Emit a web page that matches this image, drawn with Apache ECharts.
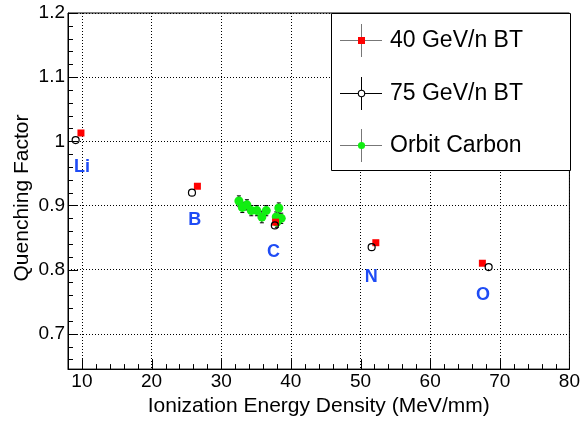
<!DOCTYPE html>
<html><head><meta charset="utf-8">
<script src="https://cdn.jsdelivr.net/npm/echarts@6/dist/echarts.min.js"></script>
<style>html,body{margin:0;padding:0;background:#fff}#c{width:583px;height:422px}</style>
</head><body><div id="c"></div>
<script>
// ---- tick values ----
const xMajorTicks = [10, 20, 30, 40, 50, 60, 70, 80];
const xMinorTicks = [8, 12, 14, 16, 18, 22, 24, 26, 28, 32, 34, 36, 38, 42, 44, 46, 48,
  52, 54, 56, 58, 62, 64, 66, 68, 72, 74, 76, 78];
const yMajorTicks = [0.7, 0.8, 0.9, 1, 1.1, 1.2];
const yMinorTicks = [0.66, 0.68, 0.72, 0.74, 0.76, 0.78, 0.82, 0.84, 0.86, 0.88, 0.92, 0.94,
  0.96, 0.98, 1.02, 1.04, 1.06, 1.08, 1.12, 1.14, 1.16, 1.18];

// ---- data ----
const bt40X = [9.86, 26.58, 37.8, 52.2, 67.5];
const bt40Y = [1.013, 0.930, 0.874, 0.842, 0.810];
const bt75X = [9.10, 25.8, 37.7, 51.6, 68.4];
const bt75Y = [1.002, 0.920, 0.869, 0.835, 0.804];
const orbitX = [32.54, 33.03, 33.69, 34.32, 35.12, 35.84, 36.47, 38.27, 37.90, 38.62, 37.99];
const orbitY = [0.907, 0.897, 0.901, 0.892, 0.892, 0.882, 0.892, 0.896, 0.882, 0.880, 0.874];
const orbitErr = [0.008, 0.008, 0.008, 0.008, 0.008, 0.009, 0.008, 0.008, 0.008, 0.008, 0.008];
const ionNames = ['Li', 'B', 'C', 'N', 'O'];
const ionLabelX = [10.0, 26.2, 37.5, 51.55, 67.6];
const ionLabelY = [0.960, 0.877, 0.827, 0.788, 0.761];

const legendNames = ['40 GeV/n BT', '75 GeV/n BT', 'Orbit Carbon'];
const xTitle = 'Ionization Energy Density (MeV/mm)';
const yTitle = 'Quenching Factor';

const X_MIN = 8, X_MAX = 80, Y_MIN = 0.645, Y_MAX = 1.2;
const FONT = "'Liberation Sans', Arial, Helvetica, sans-serif";
const BLUE = '#1f4cf5';
const RED = '#ff0000';
const GREEN = '#11ee11';
const TICK_COLOR = '#000';

const chart = echarts.init(document.getElementById('c'), null, {renderer: 'canvas'});

function zip(a, b, c) { return a.map((v, i) => c ? [v, b[i], c[i]] : [v, b[i]]); }

function tickSeries(name, values, isX, len) {
  return {
    name: name, type: 'custom', silent: true,
    data: values.map(v => isX ? [v, Y_MIN] : [X_MIN, v]),
    encode: {x: 0, y: 1},
    renderItem: function (params, api) {
      const p = api.coord([api.value(0), api.value(1)]);
      let shape;
      if (isX) {
        const px = Math.round(p[0]) + 0.5;
        shape = {x1: px, y1: p[1], x2: px, y2: p[1] - len};
      } else {
        const py = Math.round(p[1]) + 0.5;
        shape = {x1: p[0], y1: py, x2: p[0] + len, y2: py};
      }
      return {type: 'line', shape: shape, style: {stroke: TICK_COLOR, lineWidth: 1}};
    },
    z: 10
  };
}

const option = {
  animation: false,
  backgroundColor: '#fff',
  grid: {left: 68, right: 12, top: 13, bottom: 48, show: true, borderColor: '#000', borderWidth: 1, containLabel: false},
  xAxis: {
    type: 'value', min: X_MIN, max: X_MAX, position: 'bottom',
    name: xTitle, nameLocation: 'middle', nameGap: 16,
    nameTextStyle: {fontFamily: FONT, fontSize: 21, color: '#000'},
    axisLine: {show: true, onZero: false, lineStyle: {color: '#000', width: 1}},
    axisTick: {show: false, customValues: xMajorTicks},
    axisLabel: {show: true, customValues: xMajorTicks, fontFamily: FONT, fontSize: 19, color: '#000', margin: 3},
    splitLine: {show: true, lineStyle: {color: '#000', width: 1, type: [1, 2]}}
  },
  yAxis: {
    type: 'value', min: Y_MIN, max: Y_MAX, position: 'left',
    axisLine: {show: true, onZero: false, lineStyle: {color: '#000', width: 1}},
    axisTick: {show: false, customValues: yMajorTicks},
    axisLabel: {show: true, customValues: yMajorTicks, fontFamily: FONT, fontSize: 19, color: '#000', margin: 3},
    splitLine: {show: true, lineStyle: {color: '#000', width: 1, type: [1, 2]}}
  },
  series: [
    {
      name: 'Orbit Carbon errors', type: 'custom',
      data: zip(orbitX, orbitY, orbitErr),
      encode: {x: 0, y: 1},
      renderItem: function (params, api) {
        const x = api.value(0), y = api.value(1), e = api.value(2);
        const t = api.coord([x, y + e]), b = api.coord([x, y - e]);
        const c = 2, st = {stroke: '#000', lineWidth: 1};
        return {type: 'group', children: [
          {type: 'line', shape: {x1: t[0], y1: t[1], x2: b[0], y2: b[1]}, style: st},
          {type: 'line', shape: {x1: t[0] - c, y1: t[1], x2: t[0] + c, y2: t[1]}, style: st},
          {type: 'line', shape: {x1: b[0] - c, y1: b[1], x2: b[0] + c, y2: b[1]}, style: st}
        ]};
      },
      z: 2
    },
    {
      name: legendNames[2], type: 'scatter',
      data: zip(orbitX, orbitY), symbol: 'circle', symbolSize: 9,
      itemStyle: {color: GREEN, opacity: 1}, z: 3
    },
    {
      name: legendNames[0], type: 'scatter',
      data: zip(bt40X, bt40Y), symbol: 'rect', symbolSize: 7,
      itemStyle: {color: RED, opacity: 1}, z: 4
    },
    {
      name: legendNames[1], type: 'scatter',
      data: zip(bt75X, bt75Y), symbol: 'circle', symbolSize: 7,
      itemStyle: {color: 'rgba(0,0,0,0)', borderColor: '#000', borderWidth: 1.2, opacity: 1}, z: 5
    },
    {
      name: 'ion labels', type: 'custom',
      data: ionLabelX.map((v, i) => [v, ionLabelY[i], i]),
      encode: {x: 0, y: 1},
      renderItem: function (params, api) {
        const p = api.coord([api.value(0), api.value(1)]);
        return {type: 'text', x: p[0], y: p[1], style: {
          text: ionNames[api.value(2)], fill: BLUE, font: 'bold 18px ' + FONT,
          align: 'center', verticalAlign: 'middle'}};
      },
      z: 6
    },
    tickSeries('x major ticks', xMajorTicks, true, 10),
    tickSeries('x minor ticks', xMinorTicks, true, 5),
    tickSeries('y major ticks', yMajorTicks, false, 10),
    tickSeries('y minor ticks', yMinorTicks, false, 5)
  ],
  graphic: (function () {
    const els = [];
    els.push({type: 'text', x: 22, y: 198, rotation: Math.PI / 2,
      style: {text: yTitle, font: '21px ' + FONT, fill: '#000', align: 'center', verticalAlign: 'middle'}, z: 50});
    els.push({type: 'rect', shape: {x: 331.5, y: 13.5, width: 239, height: 157},
      style: {fill: '#fff', stroke: '#000', lineWidth: 1}, z: 100});
    const cys = [40, 93, 145];
    const lineCols = ['#777', '#000', '#777'];
    cys.forEach(function (cy, i) {
      const lc = lineCols[i];
      els.push({type: 'line', shape: {x1: 340, y1: cy + 0.5, x2: 382, y2: cy + 0.5}, style: {stroke: lc, lineWidth: 1}, z: 101});
      els.push({type: 'line', shape: {x1: 361.5, y1: cy - 16, x2: 361.5, y2: cy + 17}, style: {stroke: lc, lineWidth: 1}, z: 101});
      if (i === 0) els.push({type: 'rect', shape: {x: 358, y: cy - 3, width: 7, height: 7}, style: {fill: RED}, z: 102});
      if (i === 1) els.push({type: 'circle', shape: {cx: 361.5, cy: cy + 0.5, r: 3.2}, style: {fill: '#fff', stroke: '#000', lineWidth: 1.1}, z: 102});
      if (i === 2) els.push({type: 'circle', shape: {cx: 361.5, cy: cy + 0.5, r: 3.6}, style: {fill: GREEN}, z: 102});
      els.push({type: 'text', x: 390, y: cy + 1, style: {text: legendNames[i], font: '23px ' + FONT, fill: '#000',
        align: 'left', verticalAlign: 'middle'}, z: 102});
    });
    return els;
  })()
};
chart.setOption(option);
</script>
</body></html>
